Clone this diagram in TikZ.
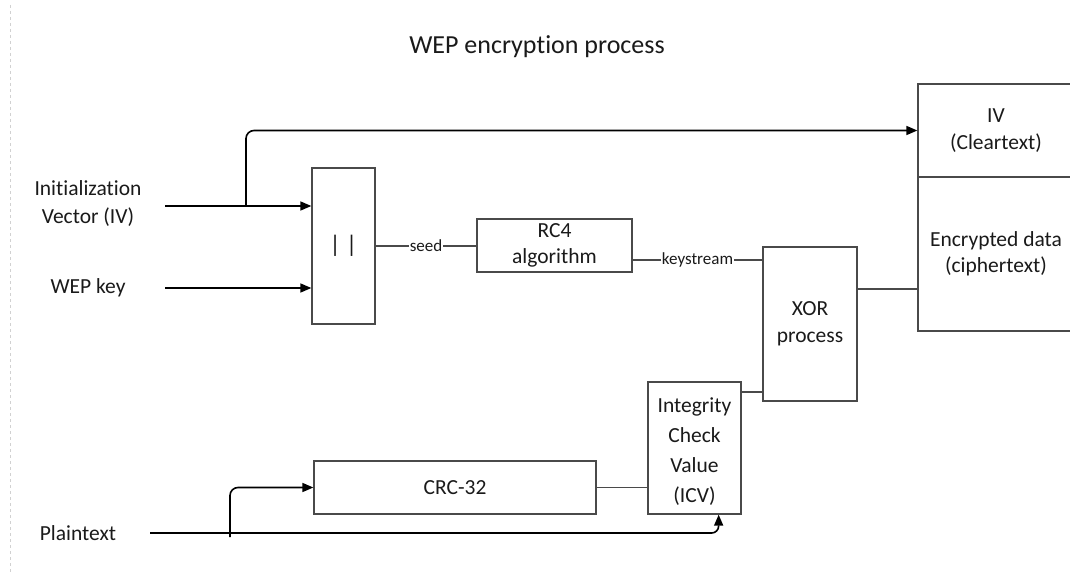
\documentclass[tikz,border=0pt]{standalone}
\usepackage{fontspec}
\setmainfont{Carlito}[Ligatures=NoCommon]
\usetikzlibrary{arrows.meta}
\definecolor{boxgray}{HTML}{4A4A4A}
\definecolor{txtcol}{HTML}{1A1A1A}
\begin{document}
\begin{tikzpicture}[x=1pt,y=-1pt,
  box/.style={draw=boxgray, line width=1.3pt, inner sep=0pt, align=center, text=txtcol,
              font=\fontsize{21.5}{26.5}\selectfont},
  arr/.style={line width=1.6pt, black, -{Triangle[length=11pt,width=9pt]}},
  link/.style={draw=boxgray, line width=1.2pt},
  lbl/.style={fill=white, inner sep=1pt, text=txtcol, font=\fontsize{17}{20}\selectfont},
  txt/.style={align=center, text=txtcol, font=\fontsize{21.5}{28}\selectfont}]
\useasboundingbox (0,0) rectangle (1070,575);
\fill[white] (0,0) rectangle (1070,575);
\draw[black!18, dashed, line width=0.8pt] (10,5) -- (10,575);

% title
\node[text=txtcol, font=\fontsize{26}{30}\selectfont] (title) at (537,47) {WEP encryption process};

% inputs
\node[txt] (ivtxt) at (88,204) {Initialization\\Vector (IV)};
\node[txt] (keytxt) at (88,288) {WEP key};
\node[txt] (pttxt) at (78,533) {Plaintext};
\coordinate (ivin) at (165,206);
\coordinate (ivsplit) at (246,206);
\coordinate (keyin) at (165,288);
\coordinate (ptin) at (150,533);
\coordinate (ptsplit) at (230,537);

% boxes
\node[box, minimum width=63pt, minimum height=156pt, font=\fontsize{24}{26}\selectfont] (cat) at (343.5,246) {| |};
\node[box, minimum width=155pt, minimum height=53pt] (rc4) at (554.5,245.5) {RC4\\algorithm};
\node[box, minimum width=94pt, minimum height=154pt] (xor) at (810,324) {XOR\\process};
\node[box, minimum width=93pt, minimum height=132pt, font=\fontsize{21.5}{30}\selectfont] (icv) at (694.5,448) {\rule{0pt}{22pt}Integrity\\Check\\Value\\(ICV)};
\node[box, minimum width=282pt, minimum height=53pt] (crc) at (455,487.5) {CRC-32};
\node[box, minimum width=156pt, minimum height=93pt] (ivc) at (996,130.5) {IV\\(Cleartext)};
\node[box, minimum width=156pt, minimum height=154pt] (enc) at (996,254) {Encrypted data\\(ciphertext)};

% connectors
\draw[arr] (ivin) -- (cat.west |- ivin);
\draw[arr, rounded corners=8pt] (ivsplit) |- (ivc.west);
\draw[arr] (keyin) -- (cat.west |- keyin);
\draw[link] (cat.east) -- node[lbl] {seed} (rc4.west |- cat.east);
\draw[link] (rc4.east |- 0,260) -- node[lbl] {keystream} (xor.west |- 0,260);
\draw[link] (xor.east |- 0,289) -- (enc.west |- 0,289);
\draw[link] (crc.east) -- (icv.west |- crc.east);
\draw[link] (icv.east |- 0,392) -- (xor.west |- 0,392);
\draw[arr, rounded corners=7pt] (ptin) -| ([xshift=-23pt]icv.south east);
\draw[arr, rounded corners=8pt] (ptsplit) |- (crc.west);
\end{tikzpicture}
\end{document}
